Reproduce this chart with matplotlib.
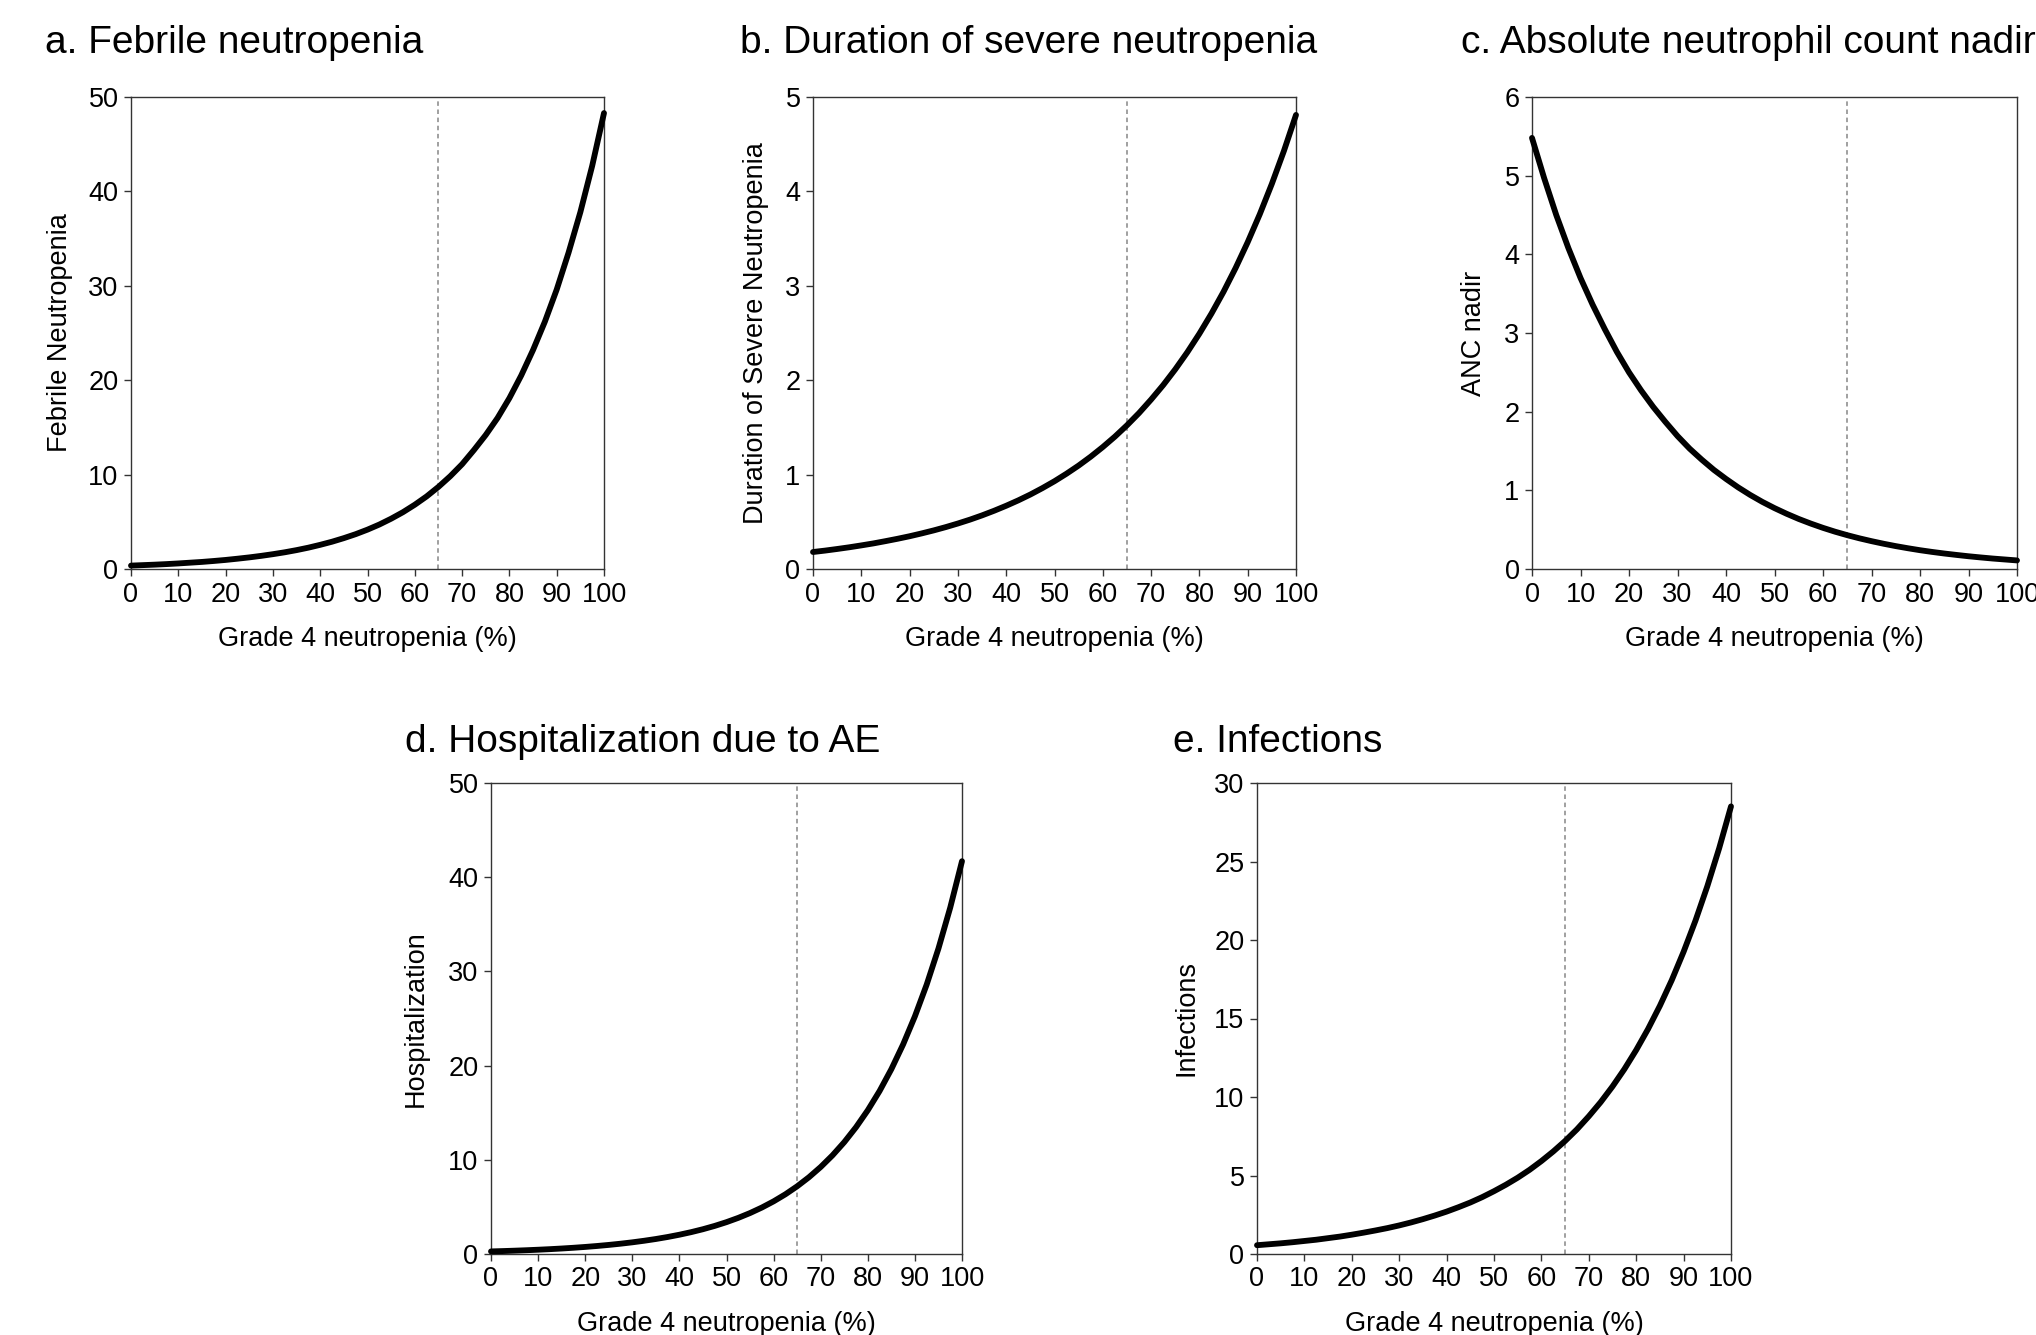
import matplotlib
matplotlib.use("Agg")
import matplotlib.pyplot as plt
import numpy as np

plt.rcParams['font.family'] = ['Liberation Sans', 'DejaVu Sans']

# grade 4 neutropenia (%) - curves read every 2.5 points
grade4 = [0, 2.5, 5, 7.5, 10, 12.5, 15, 17.5, 20, 22.5, 25, 27.5, 30, 32.5,
          35, 37.5, 40, 42.5, 45, 47.5, 50, 52.5, 55, 57.5, 60, 62.5, 65,
          67.5, 70, 72.5, 75, 77.5, 80, 82.5, 85, 87.5, 90, 92.5, 95, 97.5, 100]

febrile = [0.36, 0.41, 0.46, 0.52, 0.59, 0.67, 0.75, 0.85, 0.96, 1.09, 1.23,
           1.39, 1.57, 1.77, 2.00, 2.26, 2.56, 2.89, 3.27, 3.69, 4.17, 4.71,
           5.33, 6.02, 6.81, 7.69, 8.70, 9.83, 11.1, 12.6, 14.2, 16.0, 18.1,
           20.5, 23.2, 26.2, 29.6, 33.5, 37.8, 42.7, 48.3]
duration_sn = [0.180, 0.195, 0.212, 0.230, 0.250, 0.271, 0.295, 0.320, 0.347,
               0.377, 0.409, 0.444, 0.482, 0.523, 0.568, 0.617, 0.670, 0.727,
               0.789, 0.857, 0.930, 1.010, 1.096, 1.190, 1.292, 1.402, 1.522,
               1.652, 1.795, 1.948, 2.115, 2.296, 2.493, 2.706, 2.937, 3.189,
               3.462, 3.758, 4.080, 4.429, 4.810]
anc_nadir = [5.48, 4.97, 4.50, 4.08, 3.70, 3.36, 3.05, 2.76, 2.50, 2.27, 2.06,
             1.87, 1.69, 1.53, 1.39, 1.26, 1.145, 1.038, 0.941, 0.853, 0.774,
             0.702, 0.636, 0.577, 0.523, 0.474, 0.430, 0.390, 0.354, 0.321,
             0.291, 0.264, 0.239, 0.217, 0.197, 0.179, 0.162, 0.147, 0.133,
             0.121, 0.109]
hospital = [0.275, 0.311, 0.353, 0.400, 0.454, 0.514, 0.583, 0.661, 0.750,
            0.850, 0.964, 1.093, 1.239, 1.405, 1.592, 1.805, 2.047, 2.321,
            2.631, 2.983, 3.382, 3.835, 4.348, 4.930, 5.589, 6.337, 7.186,
            8.147, 9.237, 10.47, 11.87, 13.46, 15.26, 17.30, 19.62, 22.25,
            25.23, 28.60, 32.43, 36.77, 41.70]
infections = [0.56, 0.62, 0.68, 0.75, 0.83, 0.91, 1.01, 1.11, 1.23, 1.36, 1.50,
              1.65, 1.82, 2.01, 2.22, 2.45, 2.70, 2.98, 3.28, 3.62, 4.00, 4.41,
              4.86, 5.36, 5.92, 6.53, 7.20, 7.94, 8.77, 9.67, 10.67, 11.77,
              12.99, 14.33, 15.81, 17.44, 19.25, 21.23, 23.42, 25.84, 28.51]

cutoff = 65
xticks = list(range(0, 101, 10))

panels = [
    # title, ylabel, data, ymax, ystep, (left, right, top, bottom) px, title pos px, ylabel x px
    ("a. Febrile neutropenia", "Febrile Neutropenia", febrile, 50, 10,
     (131, 604, 97, 569), (45, 43), 73),
    ("b. Duration of severe neutropenia", "Duration of Severe Neutropenia", duration_sn, 5, 1,
     (813, 1296, 97, 569), (740, 43), 769),
    ("c. Absolute neutrophil count nadir", "ANC nadir", anc_nadir, 6, 1,
     (1532, 2017, 97, 569), (1461, 43), 1487),
    ("d. Hospitalization due to AE", "Hospitalization", hospital, 50, 10,
     (491, 962, 783, 1254), (405, 742), 429),
    ("e. Infections", "Infections", infections, 30, 5,
     (1257, 1731, 783, 1254), (1173, 742), 1199),
]

W, H = 2036, 1335
fig = plt.figure(figsize=(W / 100, H / 100), dpi=100)

spine_col = '#333333'
for title, ylabel, vals, ymax, ystep, (l, r, t, b), (tx, ty), ylx in panels:
    ax = fig.add_axes([l / W, 1 - b / H, (r - l) / W, (b - t) / H])
    ax.plot(grade4, vals, color='black', lw=4.2, solid_capstyle='round', clip_on=False, zorder=3)
    ax.axvline(cutoff, color='#999999', lw=1.3, ls=(0, (2.5, 2)), zorder=2)
    ax.set_xlim(0, 100)
    ax.set_ylim(0, ymax)
    ax.set_xticks(xticks)
    ax.set_yticks(np.arange(0, ymax + ystep / 2, ystep))
    ax.tick_params(direction='out', length=5, width=1.0, colors=spine_col,
                   labelcolor='black', labelsize=19.5, pad=4)
    for s in ax.spines.values():
        s.set_color(spine_col)
        s.set_linewidth(1.0)
    ax.set_xlabel("Grade 4 neutropenia (%)", fontsize=19.5)
    ax.set_ylabel(ylabel, fontsize=19.5)
    ax.xaxis.set_label_coords(0.5, -(626 - 569) / (b - t))
    ax.yaxis.set_label_coords((ylx - l) / (r - l), 0.5)
    fig.text(tx / W, 1 - ty / H, title, fontsize=28, ha='left', va='center')

fig.savefig("out.png", dpi=100)
